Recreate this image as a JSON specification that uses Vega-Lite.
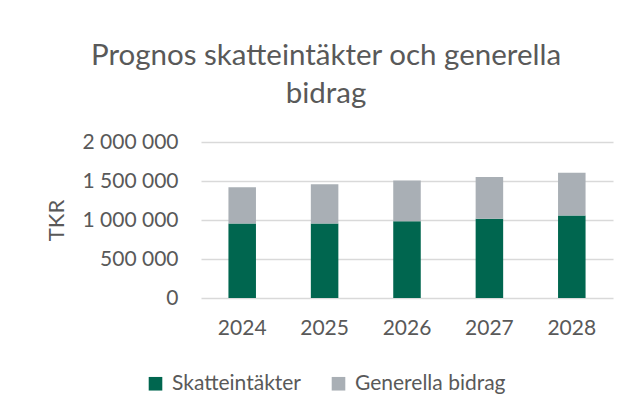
{
  "$schema": "https://vega.github.io/schema/vega-lite/v6.json",
  "autosize": "none",
  "width": 412,
  "height": 156,
  "padding": {"left": 201, "top": 142, "right": 23, "bottom": 118},
  "background": "white",
  "config": {
    "font": "Lato",
    "view": {"stroke": null}
  },
  "title": {
    "text": ["Prognos skatteintäkter och generella", "bidrag"],
    "fontSize": 29.5,
    "fontWeight": "normal",
    "color": "#595959",
    "anchor": "middle",
    "frame": "group",
    "dx": -81,
    "offset": 22,
    "lineHeight": 38
  },
  "data": {
    "values": [
      {"year": "2024", "serie": "Skatteintäkter", "value": 954000},
      {"year": "2024", "serie": "Generella bidrag", "value": 465000},
      {"year": "2025", "serie": "Skatteintäkter", "value": 954000},
      {"year": "2025", "serie": "Generella bidrag", "value": 504000},
      {"year": "2026", "serie": "Skatteintäkter", "value": 983000},
      {"year": "2026", "serie": "Generella bidrag", "value": 523000},
      {"year": "2027", "serie": "Skatteintäkter", "value": 1017000},
      {"year": "2027", "serie": "Generella bidrag", "value": 534000},
      {"year": "2028", "serie": "Skatteintäkter", "value": 1059000},
      {"year": "2028", "serie": "Generella bidrag", "value": 548000}
    ]
  },
  "mark": {"type": "bar"},
  "encoding": {
    "x": {
      "field": "year", "type": "nominal",
      "scale": {"paddingInner": 0.666, "paddingOuter": 0.333},
      "axis": {"title": null, "labelAngle": 0, "labelFontSize": 21, "labelColor": "#595959", "ticks": false, "domain": false, "labelPadding": 19}
    },
    "y": {
      "field": "value", "type": "quantitative", "stack": "zero",
      "scale": {"domain": [0, 2000000]},
      "axis": {"title": "TKR", "titleFontSize": 22, "titleFontWeight": "normal", "titleColor": "#595959", "titlePadding": 13,
        "values": [0, 500000, 1000000, 1500000, 2000000],
        "labelExpr": "replace(format(datum.value, ','), /,/g, ' ')",
        "labelFontSize": 21, "labelColor": "#595959",
        "ticks": false, "domain": false, "grid": true, "gridColor": "#D9D9D9", "gridWidth": 1.3, "labelPadding": 23}
    },
    "color": {
      "field": "serie", "type": "nominal",
      "scale": {"domain": ["Skatteintäkter", "Generella bidrag"], "range": ["#00664F", "#A9AFB5"]},
      "legend": {"title": null, "orient": "none", "direction": "horizontal", "legendX": -56, "legendY": 231,
        "symbolType": "square", "symbolSize": 185, "symbolStrokeWidth": 0, "labelFontSize": 21, "labelColor": "#595959", "columnPadding": 26, "labelOffset": 6}
    },
    "order": {"field": "serie", "sort": "descending"}
  }
}
